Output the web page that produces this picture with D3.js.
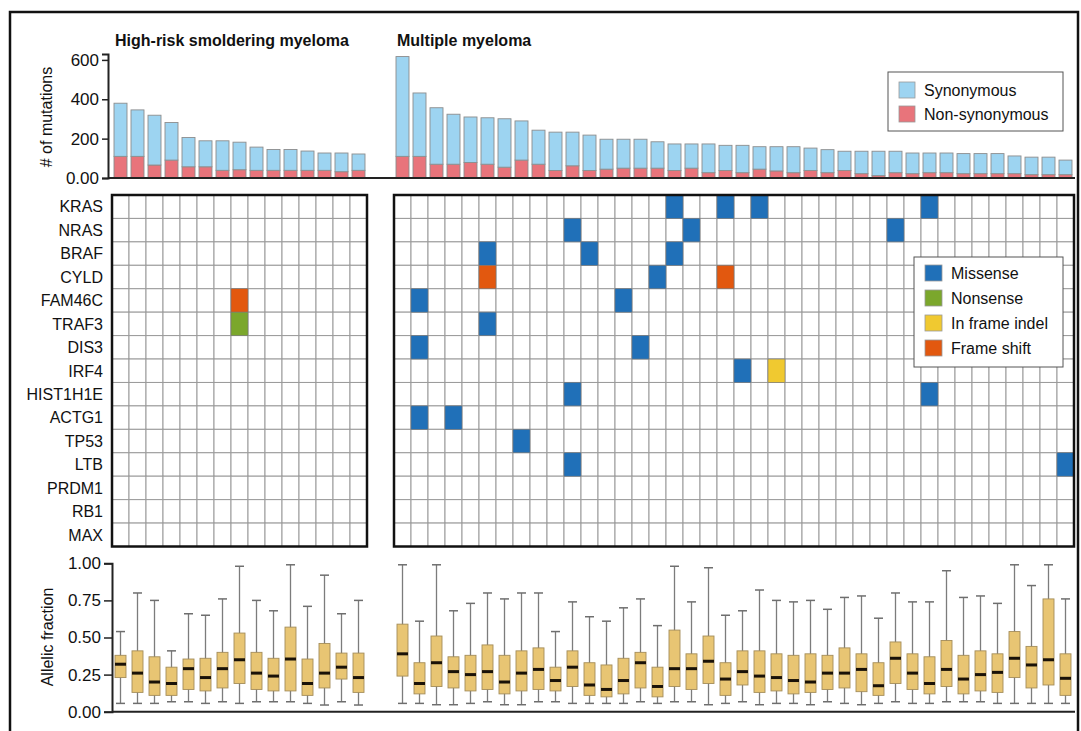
<!DOCTYPE html>
<html>
<head>
<meta charset="utf-8">
<script src="https://cdn.jsdelivr.net/npm/d3@7"></script>
<style>
body{margin:0;background:#fff;}
text{font-family:"Liberation Sans",Arial,Helvetica,sans-serif;fill:#111;}
</style>
</head>
<body>
<svg id="fig" width="1081" height="731"></svg>
<script>
var genes = ['KRAS','NRAS','BRAF','CYLD','FAM46C','TRAF3','DIS3','IRF4','HIST1H1E','ACTG1','TP53','LTB','PRDM1','RB1','MAX'];

// mutation counts per sample (bottom: non-synonymous, top: synonymous)
var smmNonSyn = [110,110,66,91,57,57,39,42,39,39,39,39,39,32,39];
var smmSyn    = [270,236,253,191,149,132,150,140,118,106,106,98,88,95,83];
var mmNonSyn  = [110,110,70,70,79,70,55,91,70,38,62,38,45,50,50,50,38,50,27,38,
                 27,45,36,27,38,27,38,22,12,27,22,27,27,22,22,22,22,17,17,17];
var mmSyn     = [507,322,287,254,231,236,246,199,173,195,171,180,152,147,147,134,135,123,146,128,
                 139,114,123,132,114,117,98,114,124,109,105,100,100,102,102,102,90,89,89,74];

var mutTypes  = ['Missense','Nonsense','In frame indel','Frame shift'];
var mutColors = ['#2070b8','#7ba72c','#f0c930','#e2580f'];

// [sample index, gene, type]
var smmMutations = [[7,'FAM46C','Frame shift'],[7,'TRAF3','Nonsense']];
var mmMutations = [
  [16,'KRAS','Missense'],[19,'KRAS','Missense'],[21,'KRAS','Missense'],[31,'KRAS','Missense'],
  [10,'NRAS','Missense'],[17,'NRAS','Missense'],[29,'NRAS','Missense'],
  [5,'BRAF','Missense'],[11,'BRAF','Missense'],[16,'BRAF','Missense'],
  [5,'CYLD','Frame shift'],[15,'CYLD','Missense'],[19,'CYLD','Frame shift'],
  [1,'FAM46C','Missense'],[13,'FAM46C','Missense'],
  [5,'TRAF3','Missense'],
  [1,'DIS3','Missense'],[14,'DIS3','Missense'],
  [20,'IRF4','Missense'],[22,'IRF4','In frame indel'],
  [10,'HIST1H1E','Missense'],[31,'HIST1H1E','Missense'],
  [1,'ACTG1','Missense'],[3,'ACTG1','Missense'],
  [7,'TP53','Missense'],
  [10,'LTB','Missense'],[39,'LTB','Missense']
];

// allelic fraction per sample: [low whisker, q1, median, q3, high whisker]
var smmAF = [
  [0.056,0.23,0.32,0.38,0.54],[0.056,0.13,0.26,0.41,0.80],[0.056,0.11,0.20,0.37,0.75],
  [0.067,0.11,0.19,0.30,0.41],[0.067,0.15,0.29,0.355,0.66],[0.056,0.14,0.23,0.36,0.65],
  [0.067,0.16,0.29,0.40,0.76],[0.056,0.19,0.35,0.53,0.98],[0.067,0.15,0.26,0.40,0.75],
  [0.067,0.14,0.24,0.36,0.68],[0.067,0.14,0.355,0.57,0.99],[0.056,0.11,0.19,0.355,0.71],
  [0.045,0.16,0.26,0.46,0.92],[0.067,0.22,0.30,0.395,0.66],[0.045,0.13,0.23,0.395,0.75]
];
var mmAF = [
  [0.056,0.24,0.39,0.59,0.99],[0.056,0.12,0.19,0.33,0.61],[0.047,0.17,0.33,0.51,0.99],
  [0.047,0.16,0.27,0.37,0.68],[0.056,0.14,0.25,0.38,0.73],[0.067,0.15,0.27,0.45,0.80],
  [0.047,0.12,0.20,0.38,0.76],[0.047,0.14,0.26,0.41,0.80],[0.067,0.15,0.285,0.43,0.80],
  [0.067,0.14,0.21,0.30,0.54],[0.056,0.17,0.30,0.41,0.74],[0.056,0.11,0.18,0.33,0.64],
  [0.056,0.10,0.15,0.315,0.61],[0.056,0.12,0.21,0.36,0.70],[0.067,0.16,0.33,0.40,0.76],
  [0.056,0.10,0.17,0.30,0.58],[0.067,0.17,0.29,0.55,0.98],[0.067,0.15,0.29,0.39,0.74],
  [0.047,0.19,0.34,0.51,0.97],[0.056,0.11,0.22,0.33,0.65],
  [0.067,0.18,0.27,0.41,0.68],[0.047,0.13,0.24,0.41,0.82],[0.056,0.14,0.23,0.39,0.75],
  [0.056,0.12,0.21,0.38,0.74],[0.047,0.13,0.20,0.39,0.75],[0.067,0.15,0.26,0.38,0.69],
  [0.056,0.16,0.26,0.43,0.77],[0.047,0.135,0.285,0.39,0.78],[0.056,0.11,0.175,0.33,0.63],
  [0.067,0.19,0.36,0.47,0.80],[0.056,0.15,0.26,0.39,0.74],[0.056,0.12,0.19,0.37,0.74],
  [0.067,0.17,0.285,0.48,0.95],[0.067,0.12,0.22,0.38,0.77],[0.067,0.14,0.25,0.41,0.78],
  [0.056,0.13,0.265,0.39,0.73],[0.056,0.23,0.36,0.54,0.99],[0.056,0.16,0.315,0.44,0.85],
  [0.056,0.18,0.35,0.76,0.99],[0.056,0.11,0.225,0.39,0.76]
];

var barKeys = ['nonSyn','syn'];
var barLabels = ['Synonymous','Non-synonymous'];
var barColors = {syn:'#9dd4f1', nonSyn:'#e8747b'};

var svg = d3.select('#fig');

// outer frame
svg.append('rect').attr('x',10).attr('y',12).attr('width',1068).attr('height',740)
  .attr('fill','none').attr('stroke','#111').attr('stroke-width',2.5);

var yBar  = d3.scaleLinear().domain([0,630]).range([178,54]);
var yGene = d3.scaleBand().domain(genes).range([195,546.5]);
var yAF   = d3.scaleLinear().domain([0,1]).range([711.7,563.3]);
var color = d3.scaleOrdinal().domain(mutTypes).range(mutColors);

var panels = [
  {title:'High-risk smoldering myeloma', syn:smmSyn, non:smmNonSyn, muts:smmMutations, af:smmAF, range:[112,367]},
  {title:'Multiple myeloma', syn:mmSyn, non:mmNonSyn, muts:mmMutations, af:mmAF, range:[394,1074]}
];

var stack = d3.stack().keys(barKeys);

panels.forEach(function(p){
  var n = p.syn.length;
  var x = d3.scaleBand().domain(d3.range(n)).range(p.range);
  var bw = x.bandwidth();

  svg.append('text').attr('x', p.range[0] + 3).attr('y', 46)
    .attr('font-size', 16).attr('font-weight', 'bold').text(p.title);

  /* --------- BARS ---------*/
  var rows = d3.range(n).map(function(i){ return {i:i, nonSyn:p.non[i], syn:p.syn[i]}; });
  var layers = stack(rows);
  svg.append('g').selectAll('g').data(layers).enter().append('g')
    .attr('fill', function(d){ return barColors[d.key]; })
    .selectAll('rect').data(function(d){ return d; }).enter().append('rect')
    .attr('x', function(d){ return x(d.data.i) + 2; })
    .attr('width', bw - 4)
    .attr('y', function(d){ return yBar(d[1]); })
    .attr('height', function(d){ return yBar(d[0]) - yBar(d[1]); })
    .attr('stroke', '#8d8d8d').attr('stroke-width', 0.9);

  /* --------- GRID ---------*/
  var cells = [];
  genes.forEach(function(g){ d3.range(n).forEach(function(i){ cells.push({g:g, i:i}); }); });
  var hm = svg.append('g');
  hm.selectAll('rect.cell').data(cells).enter().append('rect')
    .attr('class','cell')
    .attr('x', function(d){ return x(d.i); })
    .attr('y', function(d){ return yGene(d.g); })
    .attr('width', bw).attr('height', yGene.bandwidth())
    .attr('fill', '#fff').attr('stroke', '#9a9a9a').attr('stroke-width', 1);
  hm.selectAll('rect.mut').data(p.muts).enter().append('rect')
    .attr('class','mut')
    .attr('x', function(d){ return x(d[0]); })
    .attr('y', function(d){ return yGene(d[1]); })
    .attr('width', bw).attr('height', yGene.bandwidth())
    .attr('fill', function(d){ return color(d[2]); })
    .attr('stroke', '#777').attr('stroke-width', 0.6);
  hm.append('rect').attr('x', p.range[0]).attr('y', yGene.range()[0])
    .attr('width', p.range[1] - p.range[0]).attr('height', yGene.range()[1] - yGene.range()[0])
    .attr('fill','none').attr('stroke','#111').attr('stroke-width', 2.5);

  /* --------- BOXES ---------*/
  var bx = svg.append('g').selectAll('g').data(p.af).enter().append('g')
    .attr('transform', function(d, i){ return 'translate(' + (x(i) + bw / 2) + ',0)'; });
  bx.append('line').attr('x1',0).attr('x2',0)
    .attr('y1', function(d){ return yAF(d[0]); }).attr('y2', function(d){ return yAF(d[4]); })
    .attr('stroke','#7c7c7c').attr('stroke-width',1.3);
  bx.selectAll('line.cap').data(function(d){ return [d[0], d[4]]; }).enter().append('line')
    .attr('class','cap').attr('x1',-4.5).attr('x2',4.5)
    .attr('y1', function(d){ return yAF(d); }).attr('y2', function(d){ return yAF(d); })
    .attr('stroke','#6e6e6e').attr('stroke-width',1.5);
  bx.append('rect').attr('x',-5.5).attr('width',11)
    .attr('y', function(d){ return yAF(d[3]); })
    .attr('height', function(d){ return yAF(d[1]) - yAF(d[3]); })
    .attr('fill','#e8c573').attr('stroke','#a48d5a').attr('stroke-width',0.9);
  bx.append('line').attr('x1',-5.5).attr('x2',5.5)
    .attr('y1', function(d){ return yAF(d[2]); }).attr('y2', function(d){ return yAF(d[2]); })
    .attr('stroke','#1a1208').attr('stroke-width',3);
});

// gene labels
svg.append('g').selectAll('text').data(genes).enter().append('text')
  .attr('x', 103).attr('y', function(d){ return yGene(d) + yGene.bandwidth() / 2; })
  .attr('dy', '0.36em').attr('text-anchor','end').attr('font-size', 16).text(function(d){ return d; });

// axes
var barAxis = svg.append('g').attr('transform','translate(108,0)')
  .call(d3.axisLeft(yBar).tickValues([0,200,400,600]).tickSizeOuter(0).tickSize(6).tickPadding(3)
    .tickFormat(function(d){ return d === 0 ? '0.00' : d; }));
var afAxis = svg.append('g').attr('transform','translate(112,0)')
  .call(d3.axisLeft(yAF).tickValues([0,0.25,0.5,0.75,1]).tickSizeOuter(0).tickSize(8).tickPadding(3)
    .tickFormat(d3.format('.2f')));
[barAxis, afAxis].forEach(function(a){
  a.selectAll('text').attr('font-size', 17).attr('font-family', '"Liberation Sans",Arial,sans-serif').attr('fill','#111');
  a.selectAll('line').attr('stroke','#222').attr('stroke-width',1.5);
  a.select('.domain').attr('stroke','#222').attr('stroke-width',2);
});

// baselines
svg.append('line').attr('x1',108).attr('x2',1075).attr('y1',yBar(0)).attr('y2',yBar(0))
  .attr('stroke','#222').attr('stroke-width',2);
svg.append('line').attr('x1',112).attr('x2',1075).attr('y1',yAF(0)).attr('y2',yAF(0))
  .attr('stroke','#222').attr('stroke-width',2);

// y titles
svg.append('text').attr('transform','translate(52,117) rotate(-90)').attr('text-anchor','middle')
  .attr('font-size',16).text('# of mutations');
svg.append('text').attr('transform','translate(53,637) rotate(-90)').attr('text-anchor','middle')
  .attr('font-size',16).text('Allelic fraction');

// bar legend
var lg1 = svg.append('g').attr('transform','translate(888,72)');
lg1.append('rect').attr('width',175).attr('height',59).attr('fill','#fff').attr('stroke','#555').attr('stroke-width',1);
var li1 = lg1.selectAll('g').data(['syn','nonSyn']).enter().append('g')
  .attr('transform', function(d, i){ return 'translate(11,' + (10 + i * 24) + ')'; });
li1.append('rect').attr('width',16).attr('height',16).attr('fill', function(d){ return barColors[d]; })
  .attr('stroke','#999').attr('stroke-width',0.8);
li1.append('text').attr('x',25).attr('y',8).attr('dy','0.36em').attr('font-size',16)
  .text(function(d, i){ return barLabels[i]; });

// mutation legend
var lg2 = svg.append('g').attr('transform','translate(914,257)');
lg2.append('rect').attr('width',149).attr('height',110).attr('fill','#fff').attr('stroke','#555').attr('stroke-width',1);
var li2 = lg2.selectAll('g').data(mutTypes).enter().append('g')
  .attr('transform', function(d, i){ return 'translate(11,' + (8 + i * 25) + ')'; });
li2.append('rect').attr('width',17).attr('height',16).attr('fill', function(d){ return color(d); })
  .attr('stroke','#999').attr('stroke-width',0.8);
li2.append('text').attr('x',26).attr('y',8).attr('dy','0.36em').attr('font-size',16)
  .text(function(d){ return d; });
</script>
</body>
</html>
